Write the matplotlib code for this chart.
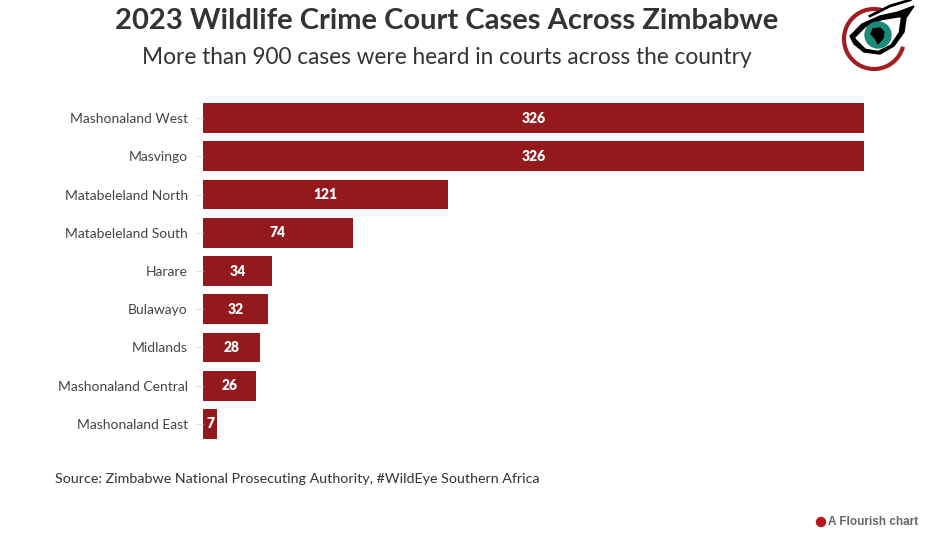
import matplotlib.pyplot as plt
from matplotlib.patches import Circle, Arc, Polygon, Ellipse

regions = ['Mashonaland West', 'Masvingo', 'Matabeleland North', 'Matabeleland South',
           'Harare', 'Bulawayo', 'Midlands', 'Mashonaland Central', 'Mashonaland East']
cases = [326, 326, 121, 74, 34, 32, 28, 26, 7]

BAR = '#94191c'
FONT = ['Lato', 'DejaVu Sans']
plt.rcParams['font.family'] = FONT

fig = plt.figure(figsize=(9.36, 5.4), dpi=100)
W, H = 936, 540
ax = fig.add_axes([203 / W, 1 - 443 / H, (864 - 203) / W, (443 - 99) / H])

ypos = list(range(len(regions)))
ax.barh(ypos, cases, height=0.78, color=BAR)
for y, v in zip(ypos, cases):
    ax.text(v / 2, y, str(v), ha='center', va='center', color='white',
            fontsize=10, fontweight='heavy')

ax.set_xlim(0, 326)
ax.set_ylim(len(regions) - 0.5, -0.5)
ax.set_yticks(ypos)
ax.set_yticklabels(regions, fontsize=10, color='#444444')
ax.tick_params(axis='y', length=5, color='#dddddd', pad=6)
ax.set_xticks([])
for s in ax.spines.values():
    s.set_visible(False)

fig.text(447 / W, 1 - 21 / H, '2023 Wildlife Crime Court Cases Across Zimbabwe',
         ha='center', va='center', fontsize=21, fontweight='bold', color='#333333')
fig.text(447 / W, 1 - 58 / H, 'More than 900 cases were heard in courts across the country',
         ha='center', va='center', fontsize=16.3, color='#333333')
fig.text(55 / W, 1 - 479 / H, 'Source: Zimbabwe National Prosecuting Authority, #WildEye Southern Africa',
         ha='left', va='center', fontsize=10.3, color='#333333')
fig.text(828 / W, 1 - 522 / H, 'A Flourish chart', ha='left', va='center',
         fontsize=8.5, fontweight='bold', color='#666666', family=['Liberation Sans', 'DejaVu Sans'])
fig.patches.append(Ellipse((821 / W, 1 - 522 / H), 9 / W, 9 / H, transform=fig.transFigure,
                           color='#b5171d'))

# logo
lax = fig.add_axes([840 / W, 1 - 76 / H, 76 / W, 76 / H])
lax.set_xlim(0, 76)
lax.set_ylim(0, 76)
lax.set_aspect('equal')
lax.axis('off')
lax.add_patch(Arc((34, 37), 60, 60, theta1=75, theta2=345, color='#a11d22', lw=3))
lax.add_patch(Polygon([(10, 40), (22, 52), (40, 60), (58, 64), (74, 70), (66, 58),
                       (64, 44), (54, 30), (40, 22), (24, 24), (14, 32)],
                      closed=True, color='black'))
lax.add_patch(Polygon([(16, 38), (26, 48), (42, 55), (60, 58), (58, 44), (50, 32),
                       (38, 26), (26, 28)], closed=True, color='white'))
lax.add_patch(Circle((38, 41), 13, color='#1b8a78'))
lax.add_patch(Polygon([(33, 47), (40, 48), (44, 44), (43, 38), (38, 32), (35, 38), (31, 42)],
                      closed=True, color='black'))
lax.plot([30, 50, 70], [60, 70, 76], color='black', lw=2)

fig.savefig('out.png', dpi=100)
